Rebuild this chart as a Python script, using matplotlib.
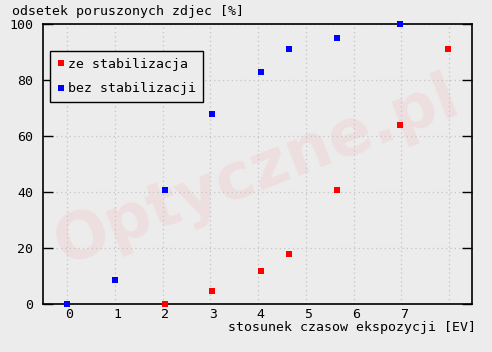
import numpy as np
import matplotlib
matplotlib.use("Agg")
import matplotlib.pyplot as plt
import matplotlib.transforms as mtransforms

# dane
x_ze = [2.06, 3.04, 4.06, 4.64, 5.65, 6.97, 7.98]
y_ze = [0.0, 4.6, 11.8, 17.9, 40.7, 63.9, 91.0]
x_bez = [0.0, 1.0, 2.06, 3.04, 4.06, 4.64, 5.65, 6.97]
y_bez = [0.0, 8.4, 40.6, 67.8, 82.8, 90.9, 94.9, 99.9]
xticks = [0, 1, 2, 3, 4, 5, 6, 7, 8]
xlabels = ["0", "1", "2", "3", "4", "5", "6", "7", ""]
yticks = [0, 20, 40, 60, 80, 100]

BG = "#ececec"
FONT = "DejaVu Sans Mono"
plt.rcParams["font.family"] = FONT
plt.rcParams["font.size"] = 9.5

fig = plt.figure(figsize=(4.92, 3.52), dpi=100, facecolor=BG)
ax = fig.add_axes([43/492, 1-304/352, 429/492, 280/352], facecolor=BG)

# znak wodny
ax.text(0.5, 0.47, "Optyczne.pl", transform=ax.transAxes, rotation=21,
        ha="center", va="center", fontsize=46, fontweight="bold",
        family="DejaVu Sans", color="#eedfdf", zorder=0)

ax.plot(x_ze, y_ze, "s", color="#ff0000", ms=4.6, mew=0, clip_on=False,
        label="ze stabilizacja", zorder=3)
ax.plot(x_bez, y_bez, "s", color="#0000ff", ms=4.6, mew=0, clip_on=False,
        label="bez stabilizacji", zorder=3)

ax.set_xlim(-0.503, 8.48)
ax.set_ylim(0, 100)
ax.set_xticks(xticks)
ax.set_xticklabels(xlabels)
ax.set_yticks(yticks)
ax.grid(True, color="#c4c4c4", linestyle=(0, (1, 2.5)), linewidth=0.9)
ax.set_axisbelow(True)
ax.tick_params(axis="x", length=0, pad=3)
ax.tick_params(axis="y", direction="in", length=7, width=1, right=True, pad=7)
for lab in ax.get_xticklabels():
    lab.set_transform(lab.get_transform() +
                      mtransforms.ScaledTranslation(2.5/100, 0, fig.dpi_scale_trans))
for s in ax.spines.values():
    s.set_linewidth(1.2)

leg = ax.legend(loc="upper left", bbox_to_anchor=(7/429, 1-27/280),
                frameon=True, fancybox=False, edgecolor="black",
                facecolor=BG, framealpha=1, handlelength=0.6,
                handletextpad=0.3, borderpad=0.5, labelspacing=0.9,
                markerscale=1.0, borderaxespad=0)
leg.get_frame().set_linewidth(1.0)

fig.text(12/492, 1-11/352, "odsetek poruszonych zdjec [%]", ha="left", va="center")
fig.text(476/492, 1-327/352, "stosunek czasow ekspozycji [EV]", ha="right", va="center")

fig.savefig("out.png", dpi=100, facecolor=BG)
